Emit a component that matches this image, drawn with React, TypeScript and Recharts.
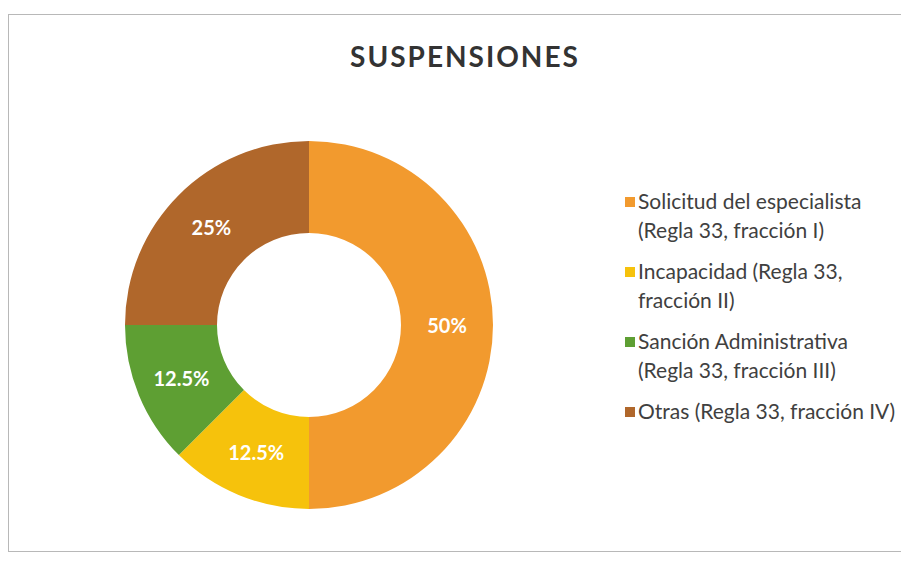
import { PieChart, Pie, Cell, Legend } from "recharts";

const categorias = [
  "Solicitud del especialista (Regla 33, fracción I)",
  "Incapacidad (Regla 33, fracción II)",
  "Sanción Administrativa (Regla 33, fracción III)",
  "Otras (Regla 33, fracción IV)",
];
const porcentajes = [50, 12.5, 12.5, 25];
const colores = ["#F29A2E", "#F6C20C", "#5E9F33", "#B0672B"];

const datos = categorias.map((nombre, i) => ({ nombre, valor: porcentajes[i] }));

const RAD = Math.PI / 180;
const fuente = "Lato, 'Open Sans', sans-serif";

function Etiqueta(props: any) {
  const { cx, cy, midAngle, innerRadius, outerRadius, value } = props;
  const r = (innerRadius + outerRadius) / 2;
  const x = cx + r * Math.cos(-midAngle * RAD);
  const y = cy + r * Math.sin(-midAngle * RAD);
  return (
    <text
      x={x}
      y={y}
      fill="#ffffff"
      textAnchor="middle"
      dominantBaseline="central"
      fontSize={20}
      fontWeight="bold"
      fontFamily={fuente}
    >
      {value}%
    </text>
  );
}

function Leyenda() {
  return (
    <div style={{ fontFamily: fuente, fontSize: 21, color: "#404040" }}>
      {datos.map((d, i) => (
        <div key={d.nombre} style={{ display: "flex", alignItems: "flex-start", marginBottom: 13 }}>
          <span
            style={{
              display: "inline-block",
              width: 10,
              height: 10,
              background: colores[i],
              marginTop: 10,
              marginRight: 3,
              flex: "none",
            }}
          />
          <span style={{ lineHeight: "28.5px", width: 262 }}>{d.nombre}</span>
        </div>
      ))}
    </div>
  );
}

export default function App() {
  return (
    <div
      style={{
        position: "relative",
        marginTop: 6,
        width: 905,
        height: 536,
        border: "1px solid #b8b8b8",
        borderRight: "none",
        background: "#fff",
      }}
    >
      <div
        style={{
          position: "absolute",
          left: 0,
          width: 912,
          top: 24,
          textAlign: "center",
          fontFamily: fuente,
          fontWeight: "bold",
          fontSize: 28,
          color: "#333",
          letterSpacing: 2,
        }}
      >
        SUSPENSIONES
      </div>
      <PieChart width={905} height={536} margin={{ top: 0, right: 0, bottom: 0, left: 0 }}>
        <Pie
          data={datos}
          dataKey="valor"
          nameKey="nombre"
          cx={300}
          cy={310}
          innerRadius={92}
          outerRadius={184}
          startAngle={90}
          endAngle={-270}
          stroke="none"
          label={Etiqueta}
          labelLine={false}
          isAnimationActive={false}
        >
          {datos.map((d, i) => (
            <Cell key={d.nombre} fill={colores[i]} />
          ))}
        </Pie>
        <Legend
          layout="vertical"
          align="right"
          verticalAlign="top"
          wrapperStyle={{ left: 616, top: 172, width: 285 }}
          content={<Leyenda />}
        />
      </PieChart>
    </div>
  );
}
